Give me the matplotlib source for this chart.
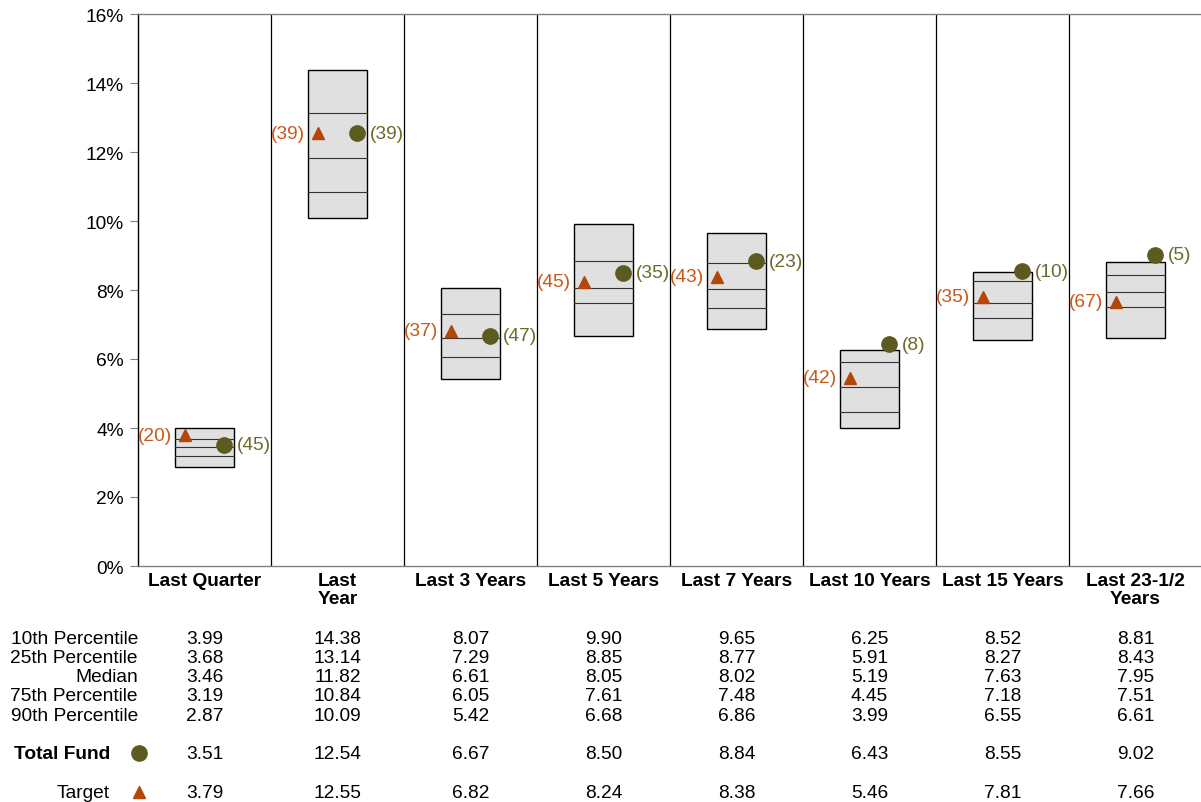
import numpy as np
import matplotlib.pyplot as plt
import matplotlib.transforms as mtransforms

plt.rcParams['font.family'] = ['Liberation Sans', 'DejaVu Sans']

# ---------------------------
# Data
# ---------------------------
periods = ["Last Quarter", "Last\nYear", "Last 3 Years", "Last 5 Years",
           "Last 7 Years", "Last 10 Years", "Last 15 Years", "Last 23-1/2\nYears"]
p10 = [3.99, 14.38, 8.07, 9.90, 9.65, 6.25, 8.52, 8.81]
p25 = [3.68, 13.14, 7.29, 8.85, 8.77, 5.91, 8.27, 8.43]
median = [3.46, 11.82, 6.61, 8.05, 8.02, 5.19, 7.63, 7.95]
p75 = [3.19, 10.84, 6.05, 7.61, 7.48, 4.45, 7.18, 7.51]
p90 = [2.87, 10.09, 5.42, 6.68, 6.86, 3.99, 6.55, 6.61]
total_fund = [3.51, 12.54, 6.67, 8.50, 8.84, 6.43, 8.55, 9.02]
target = [3.79, 12.55, 6.82, 8.24, 8.38, 5.46, 7.81, 7.66]
fund_rank = [45, 39, 47, 35, 23, 8, 10, 5]
target_rank = [20, 39, 37, 45, 43, 42, 35, 67]

# ---------------------------
# Style
# ---------------------------
box_face = "#e0e0e0"
fund_color = "#5b5b1f"
fund_text = "#6b6b2a"
target_color = "#b4460a"
target_text = "#c8581a"
fs = 13.8

fig = plt.figure(figsize=(12.01, 8.03), dpi=100)
ax = fig.add_axes([138 / 1201, 1 - 567 / 803, (1202 - 138) / 1201, (567 - 15) / 803])

n = len(periods)
ax.set_xlim(0, n)
ax.set_ylim(0, 16)

# column dividers
for i in range(1, n):
    ax.axvline(i, color="black", lw=0.9)

box_w = 0.45
for i in range(n):
    c = i + 0.5
    ax.add_patch(plt.Rectangle((c - box_w / 2, p90[i]), box_w, p10[i] - p90[i],
                               facecolor=box_face, edgecolor="black", lw=1.0, zorder=2))
    for v in (p25[i], median[i], p75[i]):
        ax.plot([c - box_w / 2, c + box_w / 2], [v, v], color="#333333", lw=0.8, zorder=3)

    # target marker + rank
    ax.plot(c - 0.145, target[i], marker="^", ms=9, color=target_color, zorder=4, ls="none")
    ax.annotate(f"({target_rank[i]})", (c - 0.145, target[i]), xytext=(-9.5, 0),
                textcoords="offset points", ha="right", va="center",
                color=target_text, fontsize=fs, zorder=5)
    # total fund marker + rank
    ax.plot(c + 0.145, total_fund[i], marker="o", ms=11, color=fund_color, zorder=4, ls="none")
    ax.annotate(f"({fund_rank[i]})", (c + 0.145, total_fund[i]), xytext=(9.5, 0),
                textcoords="offset points", ha="left", va="center",
                color=fund_text, fontsize=fs, zorder=5)

# axes styling
ax.set_yticks(np.arange(0, 17, 2))
ax.set_yticklabels([f"{v}%" for v in range(0, 17, 2)], fontsize=fs)
ax.tick_params(axis="y", length=6, color="#808080", pad=4)
ax.set_xticks([])
ax.spines["left"].set_color("black")
ax.spines["top"].set_color("#808080")
ax.spines["bottom"].set_color("#808080")
ax.spines["right"].set_visible(False)
for s in ("top", "bottom", "left"):
    ax.spines[s].set_linewidth(1.0)

# ---------------------------
# Table below
# ---------------------------
trans = mtransforms.blended_transform_factory(ax.transData, fig.transFigure)


def fy(px):
    return 1 - px / 803


for i, lab in enumerate(periods):
    ax.text(i + 0.5, fy(573), lab, transform=trans, ha="center", va="top",
            fontsize=fs, fontweight="bold", linespacing=1.1)

row_names = ["10th Percentile", "25th Percentile", "Median", "75th Percentile", "90th Percentile"]
row_vals = [p10, p25, median, p75, p90]
row_y = [640, 659, 678, 697, 717]
for name, vals, y in zip(row_names, row_vals, row_y):
    fig.text(138 / 1201, fy(y), name, ha="right", va="center", fontsize=fs)
    for i, v in enumerate(vals):
        ax.text(i + 0.5, fy(y), f"{v:.2f}", transform=trans, ha="center", va="center", fontsize=fs)

fig.text(110 / 1201, fy(755), "Total Fund", ha="right", va="center", fontsize=fs, fontweight="bold")
fig.lines.append(plt.Line2D([139 / 1201], [fy(754)], marker="o", ms=11, color=fund_color,
                            transform=fig.transFigure, ls="none"))
fig.text(110 / 1201, fy(794), "Target", ha="right", va="center", fontsize=fs)
fig.lines.append(plt.Line2D([139 / 1201], [fy(793)], marker="^", ms=9, color=target_color,
                            transform=fig.transFigure, ls="none"))
for i in range(n):
    ax.text(i + 0.5, fy(755), f"{total_fund[i]:.2f}", transform=trans, ha="center", va="center", fontsize=fs)
    ax.text(i + 0.5, fy(794), f"{target[i]:.2f}", transform=trans, ha="center", va="center", fontsize=fs)

fig.savefig("out.png", dpi=100)
